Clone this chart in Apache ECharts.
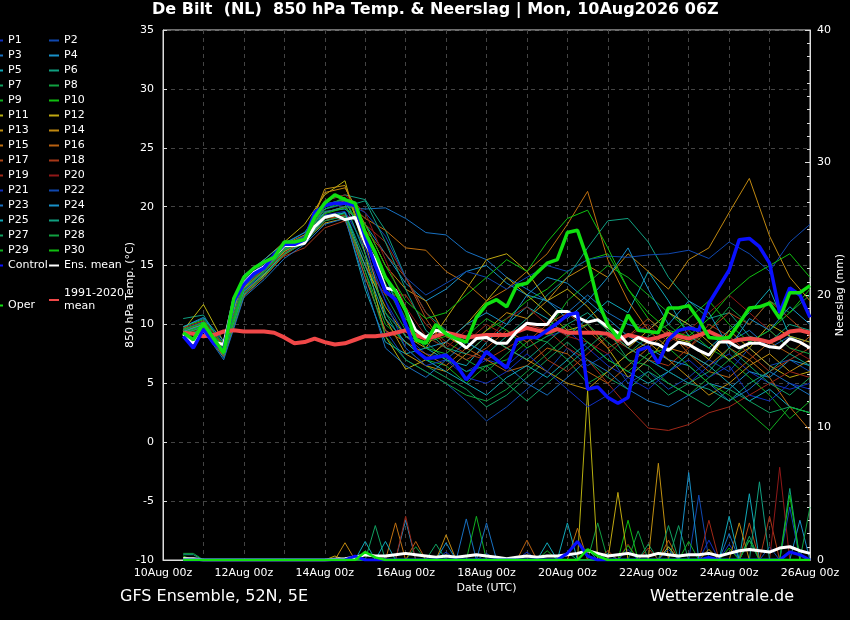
<!DOCTYPE html>
<html>
<head>
<meta charset="utf-8">
<title>De Bilt 850 hPa Temp. & Neerslag</title>
<script src="https://cdn.jsdelivr.net/npm/echarts@6/dist/echarts.min.js"></script>
<style>
html, body { margin: 0; padding: 0; background: #000; }
#main { width: 850px; height: 620px; }
</style>
</head>
<body>
<div id="main"></div>
<script>
// x axis: hours after 10Aug 00z, first value at 10Aug 12z
var FIRST_HOUR = 12;
var dateLabels = ['10Aug 00z', '12Aug 00z', '14Aug 00z', '16Aug 00z', '18Aug 00z',
	'20Aug 00z', '22Aug 00z', '24Aug 00z', '26Aug 00z'];

// 6-hourly 850 hPa temperature (°C)
var ensMean = [9.2,8.4,9.5,8.5,8.3,12.1,13.5,14.4,14.9,15.8, 16.7,16.7,16.9,18.3,19.1,19.3,18.9,19.1,16.9,15.5,
	13.1,12.9,11.2,9.5,8.9,9.5,9.3,8.7,8.0,8.8, 8.9,8.4,8.4,9.4,10.1,10.0,10.0,11.1,11.1,10.6,
	10.2,10.4,9.8,9.3,8.3,8.9,8.5,8.3,7.8,8.5, 8.3,7.8,7.4,8.5,8.5,8.0,8.4,8.4,8.1,8.0, 8.8,8.5,8.0];
var control = [9.0,8.0,9.6,8.4,7.8,12.0,13.4,14.3,14.8,15.9, 16.8,16.8,17.2,19.5,20.1,20.3,20.3,20.1,17.4,15.0,
	12.8,12.1,10.0,7.8,7.1,7.2,7.4,6.6,5.3,6.4, 7.7,7.0,6.3,8.7,8.9,8.9,9.5,10.1,10.8,11.0,
	4.5,4.7,3.8,3.3,3.8,7.8,8.1,6.7,8.7,9.5, 9.7,9.5,11.8,13.2,14.6,17.2,17.3,16.6,15.2,11.0, 13.1,12.5,10.6];
var oper = [9.3,8.7,10.1,8.8,7.6,12.2,14.0,14.8,15.3,15.7, 17.0,17.0,17.2,19.1,20.3,21.0,20.6,20.3,17.8,16.1,
	14.0,12.8,11.2,8.7,8.4,10.0,9.2,8.8,8.5,10.6, 11.7,12.1,11.5,13.3,13.5,14.4,15.2,15.5,17.8,18.0,
	15.5,12.0,10.0,8.8,10.8,9.5,9.4,9.3,11.4,11.4, 11.6,10.4,8.9,8.8,8.9,10.1,11.4,11.5,11.8,10.5, 12.7,12.7,13.3];
var clim = [9.3,9.2,9.0,9.1,9.4,9.5,9.4,9.4,9.4,9.3, 8.9,8.4,8.5,8.8,8.5,8.3,8.4,8.7,9.0,9.0,
	9.1,9.3,9.5,9.1,8.8,9.0,9.3,9.1,8.9,9.0, 9.1,9.1,9.1,9.4,9.7,9.5,9.3,9.6,9.3,9.3,
	9.3,9.3,9.2,8.7,9.1,8.9,8.7,8.9,9.2,9.0, 8.8,9.1,9.4,9.0,8.5,8.7,8.8,8.7,8.5,8.9, 9.4,9.5,9.3];

// 12-hourly member temperatures (°C)
var p1  = [9.6,10.2,8.0,13.2,14.8,16.5,17.6,19.8,20.2,16.0, 12.0,9.0,7.5,7.2,6.0,7.0,6.5,8.0,9.0,9.5, 8.0,6.5,5.5,7.0,6.0,5.0,6.5,7.5,6.0,5.0, 4.5,5.0];
var p2  = [9.2,9.8,7.6,12.8,14.5,16.2,17.0,19.0,19.5,14.0, 9.5,7.0,6.0,5.0,3.5,1.8,3.0,4.5,6.0,8.0, 6.5,7.5,5.0,6.0,4.5,5.5,7.0,6.0,8.0,6.5, 7.0,6.0];
var p3  = [9.8,10.5,8.4,13.8,15.2,16.8,17.8,19.5,20.0,19.8, 19.9,19.0,17.8,17.6,16.2,15.5,14.0,13.0,12.0,11.0, 12.5,11.0,10.0,9.5,11.0,10.0,9.0,8.5,9.5,8.0, 9.0,8.5];
var p4  = [9.0,9.5,7.2,12.5,14.0,16.0,17.2,19.6,19.8,18.5, 16.0,13.5,12.0,13.0,14.5,15.0,13.5,12.5,14.0,13.5, 12.0,10.5,9.0,8.0,7.0,6.5,5.0,4.5,6.0,5.5, 7.0,6.5];
var p5  = [9.4,10.0,7.8,13.0,14.5,16.4,17.0,18.8,19.2,13.0, 8.5,7.5,8.0,7.0,6.5,8.5,10.0,11.5,10.5,9.0, 10.5,12.0,11.0,14.5,12.0,9.0,8.0,9.5,11.0,13.0, 9.0,8.0];
var p6  = [10.5,10.8,8.0,13.5,15.0,16.6,17.5,20.5,21.0,20.6, 18.0,14.0,11.0,9.5,8.5,7.5,9.0,10.5,12.5,14.0, 16.5,18.8,19.0,17.0,14.0,12.0,10.5,11.0,9.0,8.5, 10.0,9.5];
var p7  = [9.0,9.6,7.5,12.8,14.2,16.0,17.0,19.2,19.5,15.5, 11.0,8.0,6.5,5.5,4.5,3.0,4.0,5.5,7.0,8.5, 7.0,5.5,4.5,6.0,5.0,4.0,3.0,4.5,3.5,2.5, 3.0,2.5];
var p8  = [9.5,10.0,8.2,13.0,14.6,16.2,17.3,19.8,20.5,17.5, 12.5,9.5,9.0,8.0,7.0,6.0,7.5,9.0,8.5,7.0, 5.0,6.0,7.5,9.0,10.0,8.5,9.5,11.5,10.0,12.0, 11.0,12.5];
var p9  = [9.2,9.8,7.8,12.6,14.4,16.3,17.0,19.0,19.4,14.5, 10.0,8.5,7.0,6.5,5.0,6.5,7.0,8.5,9.5,12.0, 13.5,15.0,14.0,12.5,11.0,9.5,8.0,7.0,5.5,4.0, 2.0,3.5];
var p10 = [9.8,10.4,8.3,13.4,15.0,16.6,17.4,20.0,20.8,18.0, 14.0,10.5,8.5,9.0,8.0,9.5,10.5,12.0,13.0,14.5, 15.5,16.0,13.0,10.5,9.0,10.5,12.0,10.0,8.5,9.5, 11.0,13.0];
var p11 = [9.5,11.7,8.5,14.0,15.5,17.0,18.5,21.0,22.2,16.0, 9.0,6.2,7.0,8.5,10.0,12.0,14.0,12.5,11.0,9.5, 10.0,8.0,5.5,7.0,9.0,8.5,7.0,9.5,8.0,10.0, 9.0,8.5];
var p12 = [9.0,9.6,7.4,12.6,14.2,16.2,17.1,18.6,19.0,15.0, 11.5,9.0,8.0,10.5,13.0,15.5,16.0,14.5,12.0,13.0, 11.5,9.5,8.0,9.5,11.0,10.0,8.5,7.0,8.0,6.5, 5.5,6.0];
var p13 = [9.3,10.2,7.9,13.1,14.7,16.5,17.3,21.5,21.8,17.0, 10.5,7.5,6.5,6.0,7.5,9.0,8.0,7.0,6.0,5.0, 4.5,6.0,7.5,8.5,7.0,5.5,4.0,5.0,6.5,7.5, 6.0,7.0];
var p14 = [9.6,10.0,8.1,13.5,15.0,16.8,17.6,21.2,21.6,18.5, 15.0,13.0,12.0,9.0,8.0,9.5,11.0,10.5,12.0,14.0, 15.0,14.0,16.0,14.5,13.0,15.5,16.5,19.5,22.4,17.5, 14.0,12.0];
var p15 = [9.2,9.8,7.6,13.0,14.8,16.4,17.2,20.0,20.5,19.0, 18.0,16.5,16.3,14.5,13.5,12.0,13.0,14.5,16.0,18.5, 21.3,15.5,12.0,9.5,8.0,7.5,6.5,8.0,7.0,5.5, 3.0,1.0];
var p16 = [9.0,9.4,7.3,12.4,14.0,15.9,17.0,19.0,19.2,14.0, 9.5,8.5,7.5,6.5,8.0,7.0,6.0,6.5,8.0,7.5, 6.0,5.0,6.5,8.0,9.5,7.5,6.0,5.5,7.0,8.5, 7.5,9.0];
var p17 = [9.4,9.9,7.7,12.9,14.5,16.3,17.1,19.5,20.0,18.0, 16.0,14.0,10.5,8.0,7.0,8.0,9.5,8.5,10.0,11.0, 9.5,8.0,9.0,10.5,9.0,8.0,9.5,11.0,10.0,12.0, 10.5,9.0];
var p18 = [9.7,10.3,8.2,13.3,14.6,15.8,16.5,18.2,18.8,15.0, 12.5,12.5,10.0,8.5,7.5,7.0,8.0,9.0,7.0,6.0, 7.5,9.0,8.0,7.0,6.5,8.0,10.0,9.0,7.5,6.0, 7.0,8.0];
var p19 = [9.1,9.7,7.5,12.7,14.3,16.1,17.0,18.8,19.3,18.5, 17.0,14.0,11.0,9.0,8.5,10.0,9.0,10.0,9.5,8.0, 7.0,5.0,3.0,1.2,1.0,1.5,2.5,3.0,4.0,5.0, 6.0,5.5];
var p20 = [9.5,10.1,7.9,13.2,14.7,16.5,17.5,20.5,21.0,19.5, 15.5,11.5,9.0,8.0,9.5,8.5,10.5,11.5,10.0,9.0, 8.5,7.5,9.0,10.0,8.5,9.5,11.0,12.5,11.0,9.5, 8.0,7.0];
var p21 = [9.3,9.9,7.6,12.9,14.5,16.3,17.2,19.3,19.6,16.5, 12.0,8.0,6.5,7.0,5.5,5.0,6.0,7.5,6.0,4.5, 3.0,4.0,5.5,4.5,6.0,7.0,5.5,6.5,4.0,3.5, 5.0,4.5];
var p22 = [9.6,10.2,8.0,13.4,15.0,16.7,17.5,20.0,20.4,19.5, 17.5,14.0,12.5,13.5,14.5,14.0,13.0,14.0,15.0,14.5, 15.5,15.8,15.7,15.9,16.0,16.3,15.6,17.0,16.0,14.5, 17.0,18.5];
var p23 = [9.0,9.5,7.0,12.3,13.8,15.6,16.8,18.5,19.0,13.5, 8.0,6.5,5.5,7.0,8.5,7.5,6.5,5.0,4.0,5.5, 7.0,6.0,4.5,3.5,3.0,4.0,5.0,3.5,4.5,6.0, 5.0,4.0];
var p24 = [9.8,10.6,8.6,14.2,15.5,16.9,17.8,20.2,20.6,17.0, 14.0,10.0,8.0,8.5,10.0,11.0,10.0,12.5,12.0,10.5, 12.0,14.0,16.5,13.0,10.0,12.0,11.0,8.0,10.5,9.5, 11.5,10.0];
var p25 = [9.4,10.0,7.5,12.8,14.3,16.0,17.0,19.0,19.5,15.0, 10.5,8.5,7.0,6.0,5.0,4.0,5.5,6.5,5.5,7.0, 8.5,7.0,6.0,5.0,6.0,7.5,6.5,5.0,3.5,4.5, 3.0,2.5];
var p26 = [9.2,9.8,7.8,13.0,14.6,16.4,17.2,19.5,20.0,20.5, 17.0,13.0,9.5,8.0,7.5,9.0,8.0,7.0,8.5,10.0, 11.0,9.5,8.0,7.0,6.0,5.0,4.5,3.5,5.0,6.0, 7.5,6.5];
var p27 = [9.5,10.2,8.0,13.2,14.8,16.5,17.4,19.8,20.3,16.0, 11.0,9.0,8.5,7.0,6.0,6.5,5.0,3.5,5.0,6.5, 8.0,9.5,7.0,5.5,4.0,5.0,6.0,8.0,6.5,5.0, 4.0,5.5];
var p28 = [9.1,9.6,7.4,12.6,14.1,16.0,16.9,18.8,19.2,14.5, 9.0,7.0,6.0,5.0,4.0,3.5,4.5,6.0,7.5,9.0, 10.0,8.5,7.0,6.5,5.0,4.0,5.5,7.0,8.5,9.5, 8.0,7.5];
var p29 = [9.6,10.1,8.0,13.3,14.9,16.6,17.3,20.2,20.6,17.5, 13.5,10.0,8.0,7.5,9.0,10.5,9.5,8.0,9.0,10.0, 8.5,7.0,6.0,7.5,8.0,6.5,5.0,4.0,2.5,1.0, 3.0,2.5];
var p30 = [9.3,9.9,7.7,13.0,14.5,16.3,17.1,19.4,19.9,18.5, 15.0,12.0,10.5,11.0,12.5,14.0,15.5,14.5,17.0,19.0, 19.7,16.5,13.0,11.0,9.5,9.0,10.5,12.5,14.0,15.0, 16.0,14.0];

// 6-hourly precipitation (mm)
var rr1  = [0,0,0,0,0,0,0,0,0,0, 0,0,0,0,0,0,0,0,0,0, 0,0,0,0,0,0,0.6,0,0,0, 0,0,0,0,0,0,0,0,0,0, 0,0,0,0,0.8,0,0,0,0,0, 0,0,0,0,1.2,0,0,0,0,0, 0,0,0];
var rr2  = [0,0,0,0,0,0,0,0,0,0, 0,0,0,0,0,0,0,0,0,0, 0,0,0,0,0,0,0,0,0,0, 0.5,0,0,0,0,0,0,0,0,0, 0,0,0,0,0,0,0,0,0,0, 0,4.9,0,0,0,0,0,0,1.0,0, 0,0,0];
var rr3  = [0,0,0,0,0,0,0,0,0,0, 0,0,0,0,0,0,0,0,0,0, 0,0,0,0,0,0,0,0,3.1,0, 0,0,0,0,0,0,0,0,0,0, 0,0,0.5,0,0,0,0,0,0,0, 0,0,0,0,0,0,1.5,0,0,0, 0,0,0];
var rr4  = [0,0,0,0,0,0,0,0,0,0, 0,0,0,0,0,0,0,0,0,0, 0,0,3.0,0,0,0,0,0,0,0, 0,0,0,0,0,0,0,0,0,0, 0,0,0,0,0,0,0,0,1.0,0, 0,0,0,0,0,0,0,0,0,0, 0,3.0,0];
var rr5  = [0,0,0,0,0,0,0,0,0,0, 0,0,0,0,0,0,0,0,1.4,0, 0,0,0,0,0,0,0,0,0,0, 0,0,0,0,0,0,1.3,0,0,0, 0,0,0,0,0,0,0,0,0,0, 0,0,0,0,0,0,5.0,0,0,0, 0,0,0];
var rr6  = [0.4,0.4,0,0,0,0,0,0,0,0, 0,0,0,0,0,0,0,0,0,0, 0,0,0,0,0,0,0,0,0,0, 0,0,0,0,0,0,0,0,0.6,0, 0,0,0,0,0,0,0,0,0,0, 0,0,0,0,0,0,0,0,0,0, 5.4,0,0];
var rr7  = [0,0,0,0,0,0,0,0,0,0, 0,0,0,0,0,0,0,0,0,2.6, 0,0,0,0,0,0,0,0,0,0, 0,0,0,0,0,0,0,0,0,0, 0,0,0,0,0,0,1.2,0,0,2.6, 0,0,0,0,0,0,1.8,0,0,0, 0,0,0];
var rr8  = [0.5,0.5,0,0,0,0,0,0,0,0, 0,0,0,0,0,0,0,0,0,0, 0,0,0,1.0,0,0,0,0,0,0, 0,0,0,0,0,0,0,0,0,0, 0,2.8,0,0,0,0,0,0,0,0, 0,0,0,0,0,0,0,0,0,0, 0,0,0];
var rr9  = [0,0,0,0,0,0,0,0,0,0, 0,0,0,0,0,0,0,0,0,0, 0,0,0,0,0,0,0,0,0,3.3, 0,0,0,0,0,0,0,0,0,0, 0,0,0,0,0,0,0,0,0,0, 1.4,0,0,0,0,0,0,0,0,0, 0,0,0];
var rr10 = [0.3,0,0,0,0,0,0,0,0,0, 0,0,0,0,0,0,0,0,0,0, 0,0,0,0,0,0,0,0,0,0, 0,0,0,0,0,0,0,0,0,0, 0,0,0,0,3.0,0,0,0,0,0, 0,0,0,0,0.9,0,0,0,0,0, 0,0,0];
var rr11 = [0,0,0,0,0,0,0,0,0,0, 0,0,0,0,0,0,0,0,0,0, 0,0,0,0,0,0,0,0,0,0, 0,0,0,0,0,0,0,0,0,0, 12.8,0,0,0,0,0,0,0,1.0,0, 0,0,0,0,0,0,0,0,0,0, 0,0,0];
var rr12 = [0,0,0,0,0,0,0,0,0,0, 0,0,0,0,0,0.3,0,0,0,0, 0,0,0,0,0,0,0,0,0,0, 0,0,0,0,0,0,0,0,0,0, 0,0,0,5.1,0,0,0,0,0,0, 0,0,0.8,0,0,0,0,0,0,0, 0,0,0];
var rr13 = [0.2,0,0,0,0,0,0,0,0,0, 0,0,0,0,0,0,0,0,0,0, 0,0,0,0,0,0,0,0,0,0, 0,0,0,0,0,0,0,0,0,0, 0,0,0,0,0,0,0,7.3,0,0, 0,0,0,0,0,0,0,0,0,0, 0,0,0];
var rr14 = [0,0,0,0,0,0,0,0,0,0, 0,0,0,0,0,0,1.3,0,0,0, 0,0,0,0,0,0,1.9,0,0,0, 0,0,0,0,0,0,0,0,0,0, 0,0,0,0,0,0,0,0,0,0, 0,0,0,0,0,2.8,0,0,0,0, 0,0,0];
var rr15 = [0,0,0,0,0,0,0,0,0,0, 0,0,0,0,0,0,0,0,0,0, 0,2.8,0,0,0,0,0,0,0,0, 0,0,0,0,0,0,0,0,0,2.4, 0,0,0,0,0,0,0,0,0,0, 0,0,0,0,0,0,0,0,0,0, 0,0,0];
var rr16 = [0,0,0,0,0,0,0,0,0,0, 0,0,0,0,0,0,0,0,0,0, 0,0,0,1.4,0,0,0,0,0,0, 0,0,0,0,1.5,0,0,0,0,0, 0,0,0,0,0,0,0,0,1.5,0, 0,0,0,0,0,0,0,0,0,0, 0,0,0];
var rr17 = [0,0,0,0,0,0,0,0,0,0, 0,0,0,0,0,0,0,0,0,0, 0,0,0,0,0,0,0,0,0,0, 0,0,0,0,0,0,0,0,0,0, 0,0,0.7,0,0,0,0,0,0,0, 0,0,0,0,0,0,2.8,0,0,0, 0,0,0];
var rr18 = [0,0,0,0,0,0,0,0,0,0, 0,0,0,0,0,0,0,0,0,0, 0,0,0,0,0,0,0,0,0,0, 0,0,0,0,0,0,0,0,0,0, 0,0,0,0,0,0,0.9,0,0,0, 0,0,0,0,0,0,0,0,3.3,0, 0,0,0];
var rr19 = [0,0,0,0,0,0,0,0,0,0, 0,0,0,0,0,0,0,0,0,0, 0,0,3.3,0,0,0,0,0,0,0, 0,0,0,0,0,0,0,0,0,0, 0,0,0,0,0,0,0,0,0,0, 0,0,3.0,0,0,0,0,0,0,0, 0,0,0];
var rr20 = [0,0,0,0,0,0,0,0,0,0, 0,0,0,0,0,0,0,0,0,0, 0,0,0,0,0,0,0,0,0,0, 0,0,0,0,0,0,0,0,0,0, 0,0,0,0,1.2,0,0,0,0,0, 0,0,0,0,0,0,0,0,0,7.0, 0,0,0];
var rr21 = [0,0,0,0,0,0,0,0,0,0, 0,0,0,0,0,0,0,0,0,0, 0,0,0,0,0,0,0,0,0,0, 0,0,0,0,0.6,0,0,0,0,0, 0,0,0,0,0,0,0,0,0,0, 0,0,1.5,0,0,0,0,0,0,0, 0,0,0];
var rr22 = [0,0,0,0,0,0,0,0,0,0, 0,0,0,0,0,0,0,0,0,0, 0,0,0,0,0,0,0,0,0,0, 0,0,0,0,0,0,0,0,0,0, 0,0,0,0,0,0,0,0,0.8,0, 0,0,0,0,0,0,0,0,0,0, 4.0,0,0];
var rr23 = [0,0,0,0,0,0,0,0,0,0, 0,0,0,0,0,0,0,0,0,0, 0,0,0,0,0,0,0,0,0,0, 2.8,0,0,0,0,0,0,0,0,0, 0,0,0,0,0,0,0,0,0,0, 0,0,0,0,2.0,0,0,0,0,0, 0,0,0];
var rr24 = [0,0,0,0,0,0,0,0,0,0, 0,0,0,0,0,0,0,0,0,0, 0,0,0,0,0,0,1.3,0,0,0, 0,0,0,0,0,0,0,0,0,0, 0,0,0,0,0,0,0,0,0,0, 6.6,0,0,0,0,0,0,0,0,0, 0,0,0];
var rr25 = [0,0,0,0,0,0,0,0,0,0, 0,0,0,0,0,0,0,0,0,0, 1.4,0,0,0,0,0,0,0,0,0, 0,0,0,0,0,0,0,0,2.8,0, 0,0,0,0,0,0,0,0,0,0, 0,0,0,0,3.3,0,0,0,0,0, 0,0,0];
var rr26 = [0,0,0,0,0,0,0,0,0,0, 0,0,0,0,0,0,0,0,0,0, 0,0,0,0,0,0,0,0,0,0, 0,0,0,0,0,0,0,0,0,0, 0.8,0,0,0,0,0,0,0,0,0, 0,0,0,0,0,0,0,5.9,0,0, 0,0,0];
var rr27 = [0,0,0,0,0,0,0,0,0,0, 0,0,0,0,0,0,0,0,0,0, 0,0,0,0,0,1.2,0,0,0,0, 0,0,0,0,0,0,0,0,0,0, 0,0,0,0,0,0,0,0,2.6,0, 0,0,0,0,0,0,0,0,0,0, 0,0,0];
var rr28 = [0,0,0,0,0,0,0,0,0,0, 0,0,0,0,0,0,0,0,0,0, 0,0,0,0,0,0,0,0,0,0, 0,0,0,0,0,0,0,0,0,0, 0,0,0,0,0,2.2,0,0,0,0, 0,0,0,0,0,0,0,0,0,0, 0,0,4.0];
var rr29 = [0,0,0,0,0,0,0,0,0,0, 0,0,0,0,0,0,0,0,0,0, 0,0,0,0,0,0,0,0,0,0, 0,0,0,0,0,0,0.7,0,0,0, 0,0,0,0,0,0,0,0,0,0, 0,0,0,0,0,0,1.5,0,0,0, 0,0,0];
var rr30 = [0,0,0,0,0,0,0,0,0,0, 0,0,0,0,0,0,0,0,0,0, 0,0,0,0,0,0,0,0,0,0, 0,0,0,0,0,0,0,0,0,0, 0,0,0,0,1.1,0,0,0,0,0, 0,0,0,0,0,0,0,0,0,0, 4.9,0,0];
var rrControl = [0,0,0,0,0,0,0,0,0,0, 0,0,0,0,0,0,0,0.3,0,0, 0,0,0,0,0,0,0,0,0,0, 0,0,0,0,0,0,0,0,0.5,1.4, 0.3,0,0,0,0,0,0,0,0,0, 0,0,0.2,0,0,0,0,0,0,0, 0.6,0.4,0];
var rrOper = [0,0,0,0,0,0,0,0,0,0, 0,0,0,0,0,0,0,0,0.6,0.2, 0,0,0,0,0,0,0,0,0,0, 0,0,0,0,0,0,0,0,0,0, 0.8,0.3,0,0,0,0,0,0,0,0, 0,0,0,0,0,0,0,0,0,0, 0,0,0];
var rrMean = [0.1,0.1,0,0,0,0,0,0,0,0, 0,0,0,0,0,0.05,0.1,0.2,0.4,0.3, 0.3,0.4,0.5,0.4,0.3,0.2,0.3,0.2,0.3,0.4,
	0.3,0.2,0.1,0.2,0.3,0.2,0.3,0.3,0.4,0.5, 0.7,0.5,0.3,0.4,0.5,0.3,0.3,0.5,0.4,0.3, 0.4,0.4,0.5,0.3,0.5,0.7,0.8,0.7,0.6,0.9, 1.0,0.7,0.5];

var memberTemp = [p1,p2,p3,p4,p5,p6,p7,p8,p9,p10,p11,p12,p13,p14,p15,p16,p17,p18,p19,p20,
	p21,p22,p23,p24,p25,p26,p27,p28,p29,p30];
var memberRain = [rr1,rr2,rr3,rr4,rr5,rr6,rr7,rr8,rr9,rr10,rr11,rr12,rr13,rr14,rr15,rr16,rr17,rr18,rr19,rr20,
	rr21,rr22,rr23,rr24,rr25,rr26,rr27,rr28,rr29,rr30];

// kleuren van de leden
var firstColors = ['#1030c0','#1048b0','#1870c0','#1890c8','#10a8b8','#10a080','#10a060','#10a040','#10b020','#10c010'];
var memberColors = firstColors.concat(
	['#b8b010','#c0a810','#c09010','#c08810','#c07010','#b86010','#b04818','#a83818','#a02818','#901818'],
	firstColors);

var font = 'DejaVu Sans';

function toPoints(values, stepHours) {
	return values.map(function(v, i) { return [FIRST_HOUR + stepHours * i, v]; });
}

function lineSeries(name, values, step, axis, color, width, z) {
	return {
		name: name,
		type: 'line',
		yAxisIndex: axis,
		data: toPoints(values, step),
		symbol: 'none',
		silent: true,
		z: z,
		itemStyle: { color: color },
		lineStyle: { color: color, width: width },
		emphasis: { disabled: true }
	};
}

var series = [];
var leftCol = [], rightCol = [];
for (var k = 0; k < 30; k++) {
	var name = 'P' + (k + 1);
	series.push(lineSeries(name, memberTemp[k], 12, 0, memberColors[k], 1, 2));
	series.push(lineSeries(name, memberRain[k], 6, 1, memberColors[k], 1, 2));
	if (k % 2 == 0) { leftCol.push(name); } else { rightCol.push(name); }
}
leftCol.push('Control');
rightCol.push('Ens. mean');

series.push(lineSeries('Ens. mean', rrMean, 6, 1, '#ffffff', 3, 3));
series.push(lineSeries('Control', rrControl, 6, 1, '#0a10ff', 3, 4));
series.push(lineSeries('Oper', rrOper, 6, 1, '#10e010', 2.5, 5));
series.push(lineSeries('1991-2020 mean', clim, 6, 0, '#f04848', 4, 6));
series.push(lineSeries('Ens. mean', ensMean, 6, 0, '#ffffff', 3, 7));
series.push(lineSeries('Control', control, 6, 0, '#0a10ff', 3.5, 8));
series.push(lineSeries('Oper', oper, 6, 0, '#10e010', 3.5, 9));

var legendBase = {
	orient: 'vertical',
	icon: 'rect',
	itemWidth: 10,
	itemHeight: 2,
	itemGap: 2,
	padding: 0,
	selectedMode: false,
	textStyle: { color: '#fff', fontSize: 11, lineHeight: 13, fontFamily: font }
};
function legendAt(left, top, data, extra) {
	return Object.assign({}, legendBase, { left: left, top: top, data: data }, extra || {});
}

var axisColor = '#dddddd';
var gridColor = '#444444';

var option = {
	backgroundColor: '#000',
	animation: false,
	textStyle: { fontFamily: font },
	title: [
		{ text: 'De Bilt  (NL)  850 hPa Temp. & Neerslag | Mon, 10Aug2026 06Z', left: 152, top: 2, padding: 0,
			textStyle: { color: '#fff', fontSize: 16, fontWeight: 'bold', fontFamily: font } },
		{ text: 'GFS Ensemble, 52N, 5E', left: 120, top: 589, padding: 0,
			textStyle: { color: '#fff', fontSize: 16, fontWeight: 'normal', fontFamily: font } },
		{ text: 'Wetterzentrale.de', left: 650, top: 589, padding: 0,
			textStyle: { color: '#fff', fontSize: 16, fontWeight: 'normal', fontFamily: font } }
	],
	legend: [
		legendAt(-7, 34, leftCol),
		legendAt(49, 34, rightCol),
		legendAt(49, 287, ['1991-2020 mean'], { formatter: function() { return '1991-2020\nmean'; } }),
		legendAt(-7, 299, ['Oper'])
	],
	grid: { left: 163, right: 40, top: 30, bottom: 60, outerBoundsMode: 'none', containLabel: false,
		show: true, borderColor: axisColor, borderWidth: 1, backgroundColor: 'transparent' },
	xAxis: {
		type: 'value',
		min: 0,
		max: 384,
		interval: 24,
		axisLine: { show: true, onZero: false, lineStyle: { color: axisColor } },
		axisTick: { show: false },
		axisLabel: {
			color: '#fff', fontSize: 11, margin: 8, fontFamily: font,
			formatter: function(v) { return v % 48 === 0 ? dateLabels[v / 48] : ''; }
		},
		splitLine: { show: true, lineStyle: { color: gridColor, type: [4, 4] } },
		name: 'Date (UTC)',
		nameLocation: 'middle',
		nameGap: 23,
		nameMoveOverlap: false,
		nameTextStyle: { color: '#fff', fontSize: 11, fontFamily: font }
	},
	yAxis: [
		{
			type: 'value', min: -10, max: 35, interval: 5, position: 'left',
			axisLine: { show: true, lineStyle: { color: axisColor } },
			axisTick: { show: true, inside: true, length: 4, lineStyle: { color: axisColor } },
			axisLabel: { color: '#fff', fontSize: 11, margin: 9, fontFamily: font },
			splitLine: { show: true, lineStyle: { color: gridColor, type: [4, 4] } },
			name: '850 hPa Temp. (°C)', nameLocation: 'middle', nameGap: 27, nameRotate: 90,
			nameMoveOverlap: false,
			nameTextStyle: { color: '#fff', fontSize: 11, fontFamily: font }
		},
		{
			type: 'value', min: 0, max: 40, interval: 10, position: 'right',
			axisLine: { show: true, lineStyle: { color: axisColor } },
			axisTick: { show: true, inside: true, length: 5, lineStyle: { color: axisColor } },
			minorTick: { show: true, splitNumber: 10, length: 3, lineStyle: { color: axisColor } },
			axisLabel: { color: '#fff', fontSize: 11, margin: 7, fontFamily: font },
			splitLine: { show: false },
			name: 'Neerslag (mm)', nameLocation: 'middle', nameGap: 25, nameRotate: 90,
			nameMoveOverlap: false,
			nameTextStyle: { color: '#fff', fontSize: 11, fontFamily: font }
		}
	],
	series: series
};

var myChart = echarts.init(document.getElementById('main'));
myChart.setOption(option);
</script>
</body>
</html>
